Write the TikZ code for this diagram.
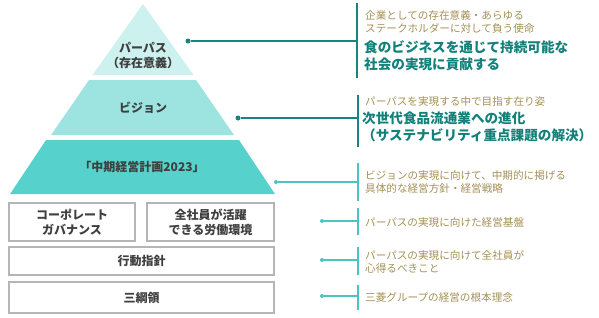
\documentclass[tikz,border=0pt]{standalone}
\usepackage{fontspec}
\setmainfont{Noto Sans CJK JP}
\usepackage{tikz}
\usetikzlibrary{positioning,calc}
\usepackage{xcolor}
\definecolor{pyTop}{HTML}{CCF1EF}
\definecolor{pyMid}{HTML}{9DE3E0}
\definecolor{pyLow}{HTML}{57D1CC}
\definecolor{pyText}{HTML}{3F3F3F}
\definecolor{lineDark}{HTML}{17857F}
\definecolor{lineLight}{HTML}{4CC3BE}
\definecolor{noteGold}{HTML}{A38F55}
\definecolor{noteTeal}{HTML}{13807A}
\definecolor{boxLine}{HTML}{B5B5B5}
\tikzset{
  lbl/.style={font=\bfseries\fontsize{12}{15}\selectfont, text=pyText, align=center, inner sep=0pt},
  basebox/.style={draw=boxLine, line width=1.1pt, fill=white, inner sep=0pt, align=center, font=\bfseries\fontsize{12}{15}\selectfont, text=pyText},
  dotd/.style={circle, fill=lineDark, inner sep=0pt, minimum size=5pt},
  dotl/.style={circle, fill=lineLight, inner sep=0pt, minimum size=4pt},
  connd/.style={draw=lineDark, line width=1.8pt},
  connl/.style={draw=lineLight, line width=1.4pt},
  note/.style={anchor=west, inner sep=0pt, align=left, text=noteGold, font=\fontsize{10.6}{13}\selectfont},
  notebig/.style={anchor=west, inner sep=0pt, align=left, text=noteTeal, font=\bfseries\fontsize{13.6}{17}\selectfont}
}
\begin{document}
\begin{tikzpicture}[x=1pt,y=-1pt]
  \useasboundingbox (0,0) rectangle (599,317);
  % pyramid
  \fill[pyTop] (143,4) -- (193.5,75) -- (92.5,75) -- cycle;
  \fill[pyMid] (89,80) -- (196,80) -- (234,135) -- (51,135) -- cycle;
  \fill[pyLow] (46,140) -- (239,140) -- (275,194) -- (10,194) -- cycle;
  \node[lbl] (purpose) at (143,55.5) {パーパス\\（存在意義）};
  \node[lbl] (vision) at (143,108) {ビジョン};
  \node[lbl] (plan) at (142,167) {「中期経営計画2023」};
  % base boxes
  \node[basebox, minimum width=126pt, minimum height=38pt] (gov) at (72,222) {コーポレート\\ガバナンス};
  \node[basebox, minimum width=127pt, minimum height=38pt] (work) at (210.5,222) {全社員が活躍\\できる労働環境};
  \node[basebox, minimum width=265pt, minimum height=28pt] (code) at (141.5,261) {行動指針};
  \node[basebox, minimum width=265pt, minimum height=31pt] (kouryo) at (141.5,297.5) {三綱領};
  % dots and bars
  \node[dotd] (d1) at (188,41) {};
  \node[dotd] (d2) at (238,118) {};
  \node[dotl] (d3) at (276,182) {};
  \node[dotl] (d4) at (322,221) {};
  \node[dotl] (d5) at (322,260) {};
  \node[dotl] (d6) at (322,296) {};
  \coordinate (b1t) at (357,3);   \coordinate (b1b) at (357,78);
  \coordinate (b2t) at (358,95);  \coordinate (b2b) at (358,147);
  \coordinate (b3t) at (358,163); \coordinate (b3b) at (358,201);
  \coordinate (b4t) at (358,208); \coordinate (b4b) at (358,235);
  \coordinate (b5t) at (358,247); \coordinate (b5b) at (358,275);
  \coordinate (b6t) at (358,285); \coordinate (b6b) at (358,310);
  \draw[connd] (b1t) -- (b1b);
  \draw[connd] (b2t) -- (b2b);
  \draw[connl] (b3t) -- (b3b);
  \draw[connl] (b4t) -- (b4b);
  \draw[connl] (b5t) -- (b5b);
  \draw[connl] (b6t) -- (b6b);
  \draw[connd] (d1) -- (d1 -| b1t);
  \draw[connd] (d2) -- (d2 -| b2t);
  \draw[connl] (d3) -- (d3 -| b3t);
  \draw[connl] (d4) -- (d4 -| b4t);
  \draw[connl] (d5) -- (d5 -| b5t);
  \draw[connl] (d6) -- (d6 -| b6t);
  % notes
  \node[note] (n1) at (365,21.5) {企業としての存在意義・あらゆる\\ステークホルダーに対して負う使命};
  \node[notebig] (n1b) at (364,55.5) {食のビジネスを通じて持続可能な\\社会の実現に貢献する};
  \node[note] (n2) at (365,101) {パーパスを実現する中で目指す在り姿};
  \node[notebig] (n2b) at (362,126.5) {次世代食品流通業への進化\\（サステナビリティ重点課題の解決）};
  \node[note] (n3) at (365,182) {ビジョンの実現に向けて、中期的に掲げる\\具体的な経営方針・経営戦略};
  \node[note] (n4) at (365,222) {パーパスの実現に向けた経営基盤};
  \node[note] (n5) at (365,262) {パーパスの実現に向けて全社員が\\心得るべきこと};
  \node[note] (n6) at (365,297) {三菱グループの経営の根本理念};
\end{tikzpicture}
\end{document}
